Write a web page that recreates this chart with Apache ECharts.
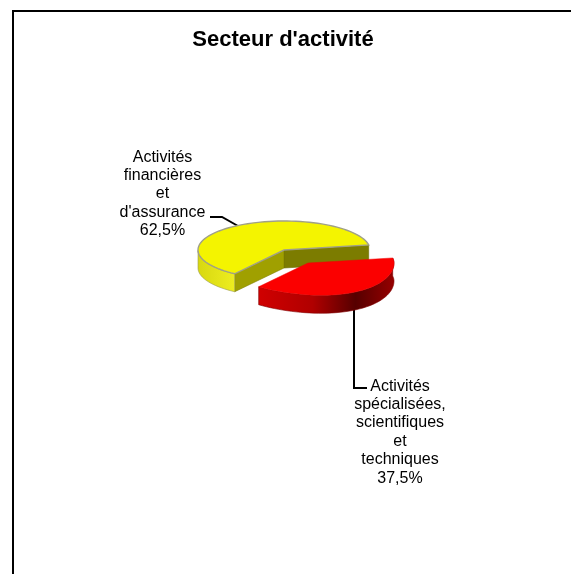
<!DOCTYPE html>
<html>
<head>
<meta charset="utf-8">
<style>
  html, body { margin: 0; padding: 0; background: #fff; }
  #chart { width: 571px; height: 574px; }
</style>
<script src="https://cdn.jsdelivr.net/npm/echarts@6/dist/echarts.min.js"></script>
</head>
<body>
<div id="chart"></div>
<script>
const chartTitle = "Secteur d'activité";
const sectorLabels = [
  ['Activités', 'financières', 'et', "d'assurance"],
  ['Activités', 'spécialisées,', 'scientifiques', 'et', 'techniques']
];
const sectorShares = [62.5, 37.5];

const fontName = '"Liberation Sans", Arial, sans-serif';
const cx = 284, cy = 250, rx = 86, ry = 29, depth = 18;
const startAngle = 10;
const frontSag = 5; // the near side of the tilted pie looks a bit fuller
// one look per slice: offset is the exploded distance, the rest goes into the labels and walls
const looks = [
  {
    dx: 0, dy: 0, top: '#f4f400', stroke: '#a0a088', strokeWidth: 1.4,
    labelX: 162.5, labelY: 148, leader: [[210, 217], [222, 217], [238, 226]]
  },
  {
    dx: 24, dy: 13, top: '#fb0000', stroke: '#f00000', strokeWidth: 0.5,
    labelX: 400, labelY: 377, leader: [[354, 309], [354, 388], [367, 388]]
  }
];

function arcPoints(x, y, from, to) {
  const pts = [];
  const steps = Math.max(2, Math.ceil(Math.abs(to - from) / 3));
  for (let i = 0; i <= steps; i++) {
    const t = (from + (to - from) * i / steps) * Math.PI / 180;
    const s = Math.sin(t), c = Math.cos(t);
    const sag = s < 0 ? frontSag * Math.max(0, c + 0.574) * -s : 0;
    pts.push([x + rx * c, y - ry * s + sag]);
  }
  return pts;
}

function wall(points, fill, stroke) {
  const bottom = points.slice().reverse().map(p => [p[0], p[1] + depth]);
  return {
    type: 'polygon',
    shape: { points: points.concat(bottom) },
    style: { fill: fill, stroke: stroke, lineWidth: 0.6 }
  };
}

function hGradient(x1, x2, stops) {
  return new echarts.graphic.LinearGradient(x1, 0, x2, 0, stops, true);
}

const total = sectorShares.reduce((a, b) => a + b, 0);

function renderSlice(params, api) {
  const i = params.dataIndex;
  let before = 0;
  for (let k = 0; k < i; k++) before += sectorShares[k];
  const from = startAngle + before / total * 360;
  const to = from + api.value(0) / total * 360;
  const look = looks[i];
  const x = cx + look.dx, y = cy + look.dy;
  const rim = arcPoints(x, y, from, to);
  const children = [];

  children.push({
    type: 'polyline',
    shape: { points: look.leader },
    style: { fill: null, stroke: '#000', lineWidth: 2 }
  });

  if (i === 0) {
    // inner cut faces are seen only on the yellow slice
    const endA = rim[0], endB = rim[rim.length - 1];
    children.push(wall([[x, y], endA], '#7c7c00', '#6a6a00'));
    children.push(wall([[x, y], endB], '#a0a000', '#808000'));
    const visible = rim.filter(p => {
      return p[1] >= y - 1 && p[0] < x;
    });
    children.push(wall(visible, hGradient(198, 236, [
      { offset: 0, color: '#d8d810' }, { offset: 1, color: '#eeee20' }
    ]), '#9a9a50'));
  } else {
    const visible = rim.filter(p => p[1] >= y - 6);
    children.push(wall(visible, hGradient(259, 393, [
      { offset: 0, color: '#d00000' }, { offset: 0.4, color: '#b00000' },
      { offset: 0.72, color: '#560000' }, { offset: 1, color: '#940000' }
    ]), '#800000'));
  }

  children.push({
    type: 'polygon',
    shape: { points: [[x, y]].concat(rim) },
    style: { fill: look.top, stroke: look.stroke, lineWidth: look.strokeWidth }
  });
  const share = api.value(0).toFixed(1).replace('.', ',') + '%';
  children.push({
    type: 'text',
    style: {
      x: look.labelX, y: look.labelY,
      text: sectorLabels[i].concat(share).join('\n'),
      font: '16px ' + fontName, fill: '#000',
      align: 'center', verticalAlign: 'top', lineHeight: 18.4
    }
  });
  return { type: 'group', children: children };
}

const chart = echarts.init(document.getElementById('chart'), null, { renderer: 'canvas' });
chart.setOption({
  animation: false,
  backgroundColor: '#fff',
  title: {
    text: chartTitle,
    left: 278, top: 24, textAlign: 'center',
    textStyle: { fontFamily: fontName, fontSize: 22, fontWeight: 'bold', color: '#000' }
  },
  graphic: [{
    type: 'polyline',
    shape: { points: [[13, 574], [13, 11], [571, 11]] },
    style: { fill: null, stroke: '#000', lineWidth: 2 },
    silent: true
  }],
  series: [{
    type: 'custom',
    coordinateSystem: 'none',
    renderItem: renderSlice,
    data: sectorShares.map(v => [v])
  }]
});
</script>
</body>
</html>
